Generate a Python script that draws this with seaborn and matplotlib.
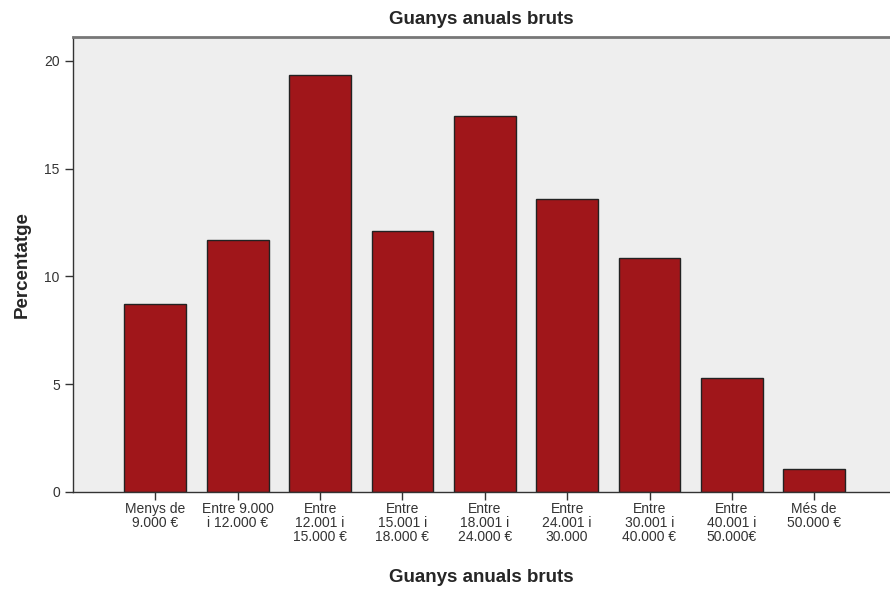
import matplotlib
matplotlib.use("Agg")
import matplotlib.pyplot as plt
import seaborn as sns
import pandas as pd

categories = ["Menys de\n9.000 €", "Entre 9.000\ni 12.000 €", "Entre\n12.001 i\n15.000 €",
              "Entre\n15.001 i\n18.000 €", "Entre\n18.001 i\n24.000 €", "Entre\n24.001 i\n30.000",
              "Entre\n30.001 i\n40.000 €", "Entre\n40.001 i\n50.000€", "Més de\n50.000 €"]
percent = [8.72, 11.69, 19.35, 12.11, 17.45, 13.6, 10.86, 5.29, 1.07]

df = pd.DataFrame({"cat": categories, "pct": percent})

sns.set_style("ticks")
plt.rcParams["font.family"] = ["Liberation Sans", "DejaVu Sans"]

fig = plt.figure(figsize=(8.9, 5.96), dpi=100)
ax = fig.add_axes([0.082, 0.1745, 0.918, 0.7635])
ax.set_facecolor("#EEEEEE")

sns.barplot(data=df, x="cat", y="pct", color="#A0161A", saturation=1, width=0.75,
            edgecolor="#222222", linewidth=1, ax=ax)

ax.set_xlim(-1.0, 8.92)
ax.set_ylim(0, 21.1)
ax.set_yticks([0, 5, 10, 15, 20])
ax.tick_params(axis="both", labelsize=10, length=6, width=1, color="#333333", labelcolor="#333333")
ax.tick_params(axis="x", pad=1)
for lbl in ax.get_xticklabels():
    lbl.set_linespacing(1.02)

for s in ["left", "bottom"]:
    ax.spines[s].set_color("#333333")
    ax.spines[s].set_linewidth(1)
ax.spines["top"].set_color("#777777")
ax.spines["top"].set_linewidth(2)
ax.spines["right"].set_visible(False)

ax.set_title("Guanys anuals bruts", fontsize=13.5, fontweight="bold", pad=9)
ax.set_xlabel("Guanys anuals bruts", fontsize=13.5, fontweight="bold", labelpad=18)
ax.set_ylabel("Percentatge", fontsize=13.5, fontweight="bold", labelpad=10)

fig.savefig("out.png", dpi=100)
